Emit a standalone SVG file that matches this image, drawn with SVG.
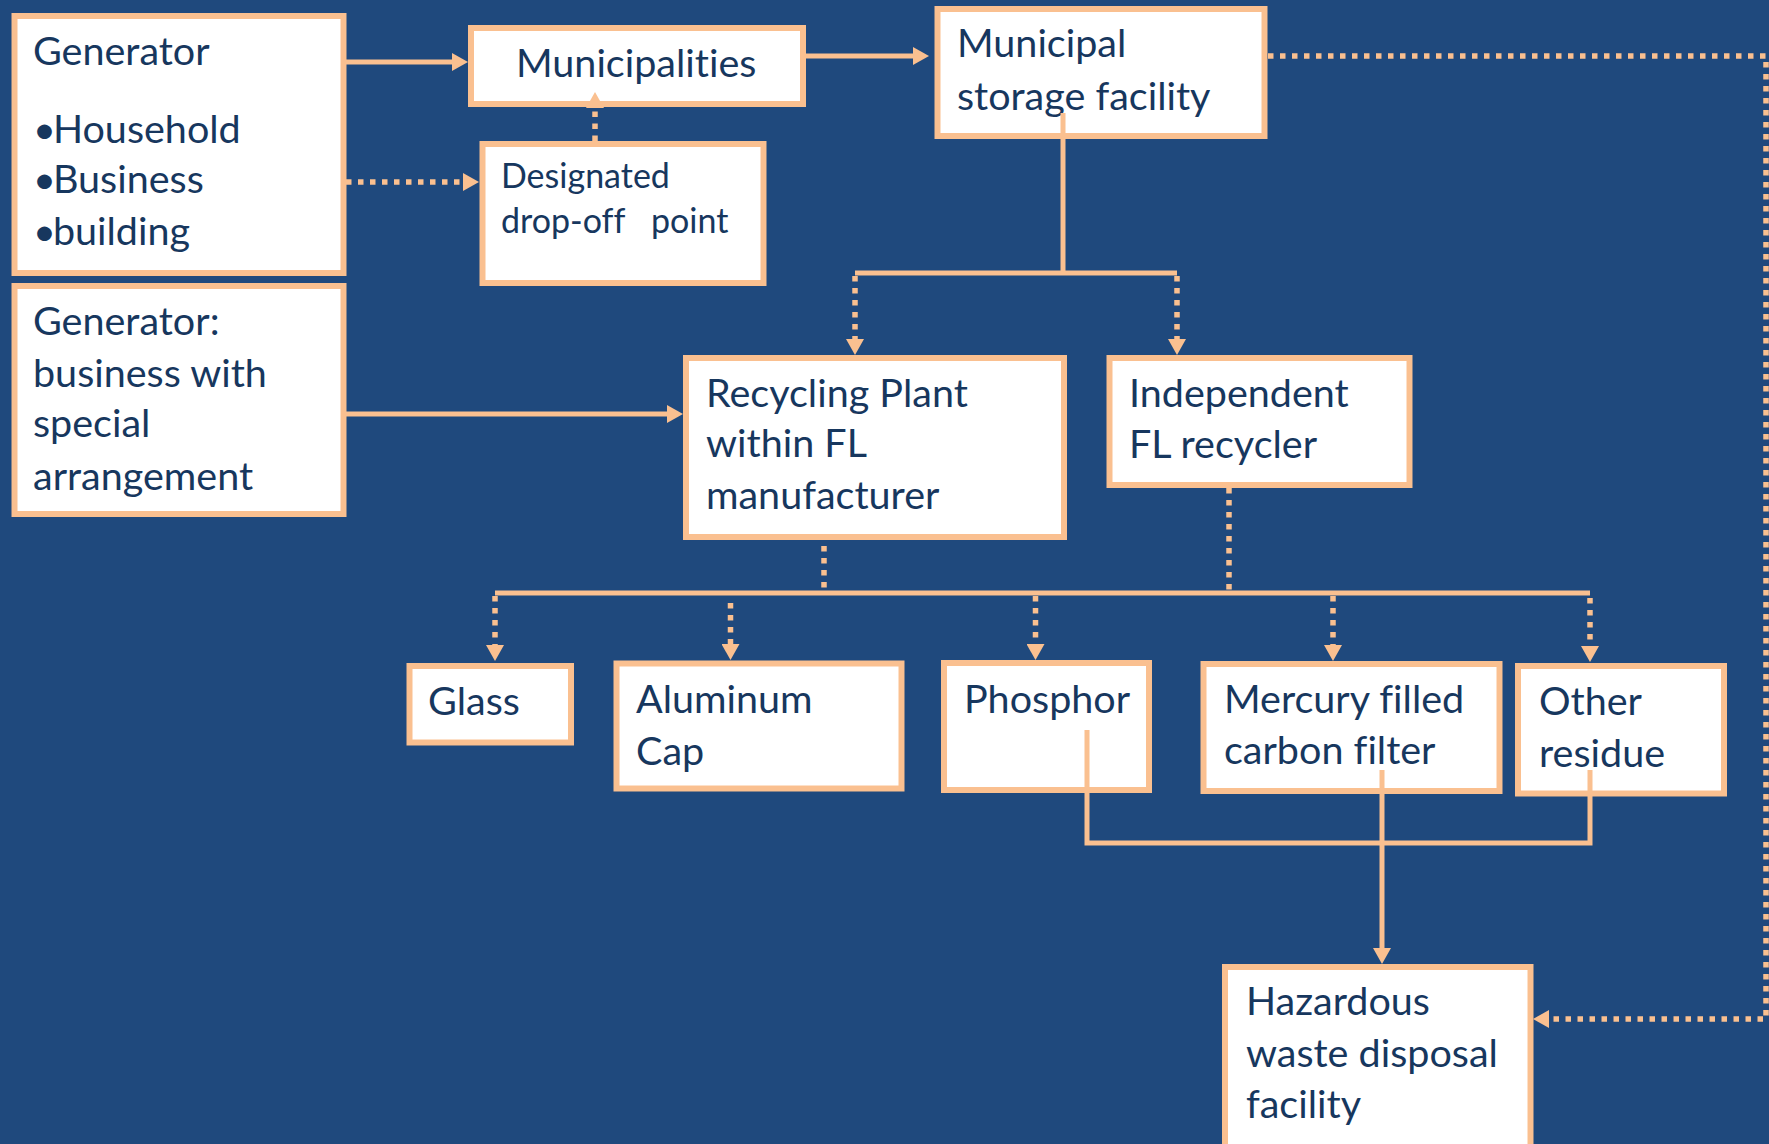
<svg xmlns="http://www.w3.org/2000/svg" width="1769" height="1144" viewBox="0 0 1769 1144">
<style>
.bg{fill:#1F497D}
.box{fill:#FFFFFF;stroke:#FAC090;stroke-width:6}
.ln{fill:none;stroke:#FAC090;stroke-width:5}
.dot{fill:none;stroke:#FAC090;stroke-width:5.5;stroke-dasharray:5.5 6.5}
.t{font-family:Lato,"Open Sans",sans-serif;font-size:39.5px;fill:#17375E;font-variant-ligatures:none}
.s{font-size:34px}
</style>
<defs>
<marker id="ah" viewBox="0 0 16 18" refX="0" refY="9" markerWidth="16" markerHeight="18" markerUnits="userSpaceOnUse" orient="auto">
<path d="M0,0 L16,9 L0,18 Z" fill="#FAC090"/>
</marker>
</defs>
<rect class="bg" x="0" y="0" width="1769" height="1144"/>
<g id="nodes">
<g id="generator">
<rect class="box" x="14.5" y="16" width="329" height="257"/>
<text class="t" x="33" y="65">Generator</text>
<text class="t" x="33" y="143">•<tspan dx="-3">Household</tspan></text>
<text class="t" x="33" y="193">•<tspan dx="-3">Business</tspan></text>
<text class="t" x="33" y="245">•<tspan dx="-3">building</tspan></text>
</g>
<g id="municipalities">
<rect class="box" x="471" y="28" width="332" height="76"/>
<text class="t" x="516" y="77">Municipalities</text>
</g>
<g id="designated">
<rect class="box" x="482.5" y="144" width="281" height="139"/>
<text class="t s" x="501" y="188">Designated</text>
<text class="t s" x="501" y="233" xml:space="preserve">drop-off   point</text>
</g>
<g id="storage">
<rect class="box" x="937.5" y="9" width="327" height="127"/>
<text class="t" x="957" y="57">Municipal</text>
<text class="t" x="957" y="110">storage facility</text>
</g>
<g id="generator2">
<rect class="box" x="14.5" y="286" width="329" height="228"/>
<text class="t" x="33" y="335">Generator:</text>
<text class="t" x="33" y="387">business with</text>
<text class="t" x="33" y="437">special</text>
<text class="t" x="33" y="490">arrangement</text>
</g>
<g id="recycling">
<rect class="box" x="686" y="358" width="378" height="179"/>
<text class="t" x="706" y="407">Recycling Plant</text>
<text class="t" x="706" y="457">within FL</text>
<text class="t" x="706" y="509">manufacturer</text>
</g>
<g id="independent">
<rect class="box" x="1109.5" y="358" width="300" height="127"/>
<text class="t" x="1129" y="407">Independent</text>
<text class="t" x="1129" y="458">FL recycler</text>
</g>
<g id="glass">
<rect class="box" x="409.5" y="666" width="161.5" height="76.5"/>
<text class="t" x="428" y="715">Glass</text>
</g>
<g id="aluminum">
<rect class="box" x="616.5" y="663.5" width="285" height="125"/>
<text class="t" x="636" y="713">Aluminum</text>
<text class="t" x="636" y="765">Cap</text>
</g>
<g id="phosphor">
<rect class="box" x="944" y="663" width="205" height="127"/>
<text class="t" x="964" y="713">Phosphor</text>
</g>
<g id="mercury">
<rect class="box" x="1203.5" y="664" width="296" height="127"/>
<text class="t" x="1224" y="713">Mercury filled</text>
<text class="t" x="1224" y="764">carbon filter</text>
</g>
<g id="other">
<rect class="box" x="1518" y="666" width="206" height="127.5"/>
<text class="t" x="1539" y="715">Other</text>
<text class="t" x="1539" y="767">residue</text>
</g>
<g id="hazardous">
<rect class="box" x="1225" y="967" width="305.5" height="200"/>
<text class="t" x="1246" y="1015">Hazardous</text>
<text class="t" x="1246" y="1067">waste disposal</text>
<text class="t" x="1246" y="1118">facility</text>
</g>
</g>
<g id="connectors">
<path class="ln" d="M346,62 H452" marker-end="url(#ah)"/>
<path class="dot" d="M346,182 H463" marker-end="url(#ah)"/>
<path class="dot" d="M595,141 V108" marker-end="url(#ah)"/>
<path class="ln" d="M806,56 H913" marker-end="url(#ah)"/>
<path class="dot" d="M1268,56 H1766 V1019 H1549" marker-end="url(#ah)"/>
<path class="ln" d="M1063,113 V273"/>
<path class="ln" d="M855,273 H1177"/>
<path class="dot" d="M855,276 V339" marker-end="url(#ah)"/>
<path class="dot" d="M1177,276 V339" marker-end="url(#ah)"/>
<path class="ln" d="M346,414 H667" marker-end="url(#ah)"/>
<path class="dot" d="M824,546 V590"/>
<path class="dot" d="M1229,488 V590"/>
<path class="ln" d="M495,593 H1590"/>
<path class="dot" d="M495,596 V645" marker-end="url(#ah)"/>
<path class="dot" d="M730.5,603 V644" marker-end="url(#ah)"/>
<path class="dot" d="M1035.5,596 V644" marker-end="url(#ah)"/>
<path class="dot" d="M1333,596 V645" marker-end="url(#ah)"/>
<path class="dot" d="M1590,598 V646" marker-end="url(#ah)"/>
<path class="ln" d="M1087,730 V843 H1590 V770"/>
<path class="ln" d="M1382,770 V948" marker-end="url(#ah)"/>
</g>
</svg>
